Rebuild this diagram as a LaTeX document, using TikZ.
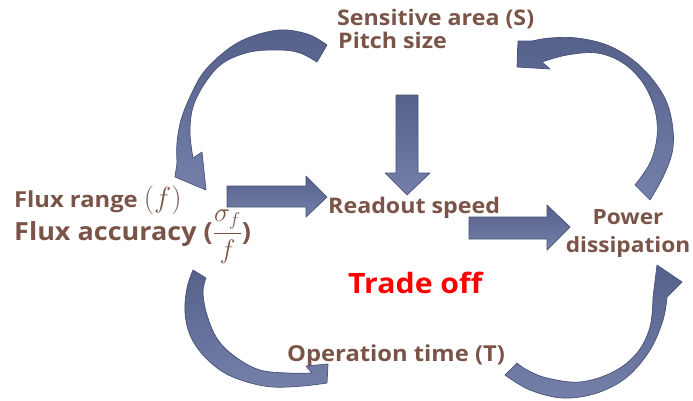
\documentclass[tikz,border=0pt]{standalone}
\usepackage{amsmath}
\usepackage{graphicx}
\usepackage{fontspec}
\setmainfont{Open Sans}[FakeStretch=1.08]
\definecolor{txtbrown}{HTML}{7A5448}
\definecolor{arrfillA}{HTML}{56618B}
\definecolor{arrfillB}{HTML}{7480AA}
\definecolor{arredge}{HTML}{485276}
\definecolor{tradered}{HTML}{FF0000}
\tikzset{
  lbl/.style={anchor=base west, inner sep=0pt, text=txtbrown, font=\bfseries},
  blockarrow/.style={draw=arredge, line width=0.7pt, top color=arrfillA, bottom color=arrfillB, line join=round},
}
\begin{document}
\begin{tikzpicture}[x=1pt,y=-1pt]
\useasboundingbox (0,0) rectangle (693,400);

% ---- straight block arrows ----
% down: pitch size -> readout speed
\path[blockarrow] (396,95) -- (418,95) -- (418,173) -- (430,173) -- (407,195) -- (385,173) -- (396,173) -- cycle;
% right: flux -> readout
\path[blockarrow] (227,186) -- (306,186) -- (306,176) -- (327,197) -- (306,217) -- (306,207) -- (227,207) -- cycle;
% right: readout -> power
\path[blockarrow] (469,217) -- (547,217) -- (547,205) -- (570,227) -- (547,250) -- (547,239) -- (469,239) -- cycle;

% ---- curved block arrows ----
% A: sensitive area -> flux range
\path[blockarrow] (327,45) -- plot[smooth, tension=0.6] coordinates {(327,45) (310,35) (287,30) (267,32) (243,40) (223,53) (203,73) (190,97) (181,120) (177,143) (177,163)}
  -- (175,177) -- (206,190) -- (202,152) -- (193,158)
  -- plot[smooth, tension=0.6] coordinates {(193,158) (190,133) (193,107) (205,83) (223,63) (250,52) (280,50) (300,53) (317,62)} -- cycle;
% B: power dissipation -> sensitive area
\path[blockarrow] (650,200) -- plot[smooth, tension=0.6] coordinates {(650,200) (663,177) (672,153) (673,130) (667,103) (653,80) (633,60) (607,45) (577,38) (550,38) (532,41)}
  -- (518,41) -- (517,67) -- (550,69) -- (542,62)
  -- plot[smooth, tension=0.6] coordinates {(542,62) (567,55) (597,53) (623,63) (643,83) (655,110) (657,137) (650,163) (635,185)} -- cycle;
% C: flux accuracy -> operation time
\path[blockarrow] (193,270) -- plot[smooth, tension=0.6] coordinates {(193,270) (187,288) (185,312) (190,335) (203,355) (223,372) (247,382) (273,387) (303,386) (327,383)}
  -- (328,364) -- (306,366) -- (312,373)
  -- plot[smooth, tension=0.6] coordinates {(312,373) (287,373) (260,370) (237,358) (218,340) (207,315) (203,292) (206,278)} -- cycle;
% D: operation time -> power dissipation
\path[blockarrow] (505,375) -- plot[smooth, tension=0.6] coordinates {(505,375) (530,390) (563,398) (597,393) (627,377) (650,350) (663,320) (667,297)}
  -- (682,282) -- (657,265) -- (653,297)
  -- plot[smooth, tension=0.6] coordinates {(653,297) (650,327) (637,353) (613,372) (580,382) (547,378) (527,370) (517,363)} -- cycle;

% ---- text nodes ----
\node[lbl, font=\bfseries\fontsize{21.5}{21.5}\selectfont] (sens) at (337,25) {Sensitive area (S)};
\node[lbl, font=\bfseries\fontsize{21.5}{21.5}\selectfont] (pitch) at (338,48) {Pitch size};
\node[lbl, font=\bfseries\fontsize{22}{22}\selectfont] (flux) at (14,207) {Flux range \scalebox{1.4}{$(f)$}};
\node[lbl, font=\bfseries\fontsize{25}{25}\selectfont] (acc) at (14,240) {Flux accuracy (\scalebox{1.08}{$\dfrac{\sigma_f}{f}$})};
\node[lbl, font=\bfseries\fontsize{21.5}{21.5}\selectfont] (read) at (328,213) {Readout speed};
\node[anchor=base, inner sep=0pt, text=txtbrown, font=\bfseries\fontsize{21}{28}\selectfont, align=center] (power) at (628,252) {Power\\dissipation};
\node[lbl, text=tradered, font=\bfseries\fontsize{28}{28}\selectfont] (trade) at (348,293) {Trade off};
\node[lbl, font=\bfseries\fontsize{22}{22}\selectfont] (oper) at (287,361) {Operation time (T)};
\end{tikzpicture}
\end{document}
